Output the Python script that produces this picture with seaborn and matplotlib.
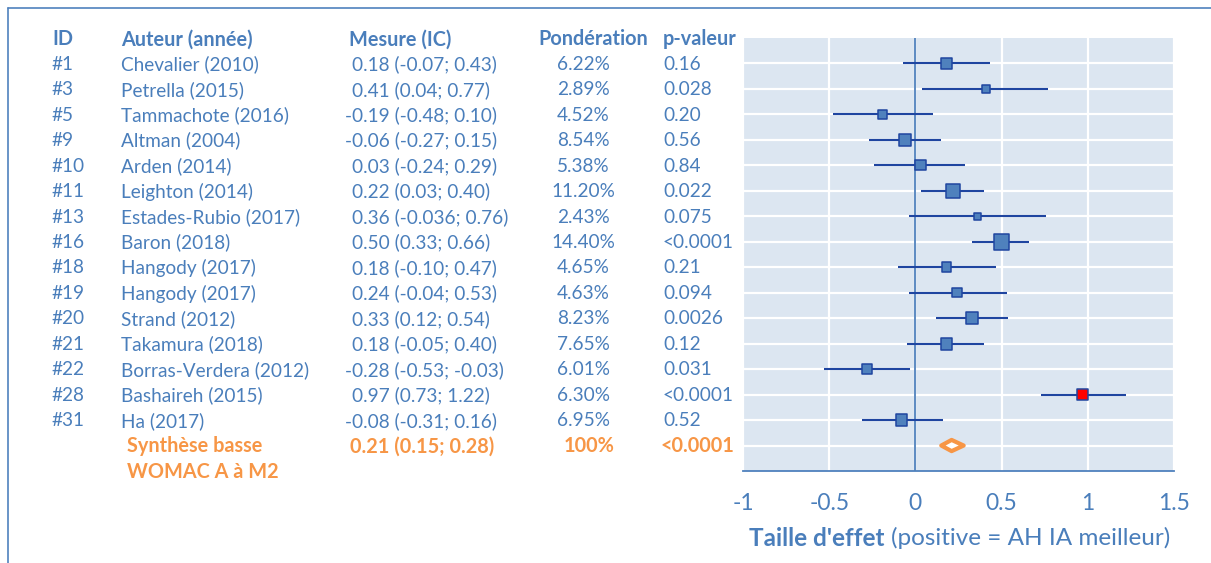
import numpy as np
import pandas as pd
import matplotlib
matplotlib.use("Agg")
import matplotlib.pyplot as plt
import matplotlib.transforms as mtransforms
from matplotlib.lines import Line2D
import seaborn as sns

# ---------------- data ----------------
ids = ["#1", "#3", "#5", "#9", "#10", "#11", "#13", "#16", "#18", "#19",
       "#20", "#21", "#22", "#28", "#31"]
authors = ["Chevalier (2010)", "Petrella (2015)", "Tammachote (2016)", "Altman (2004)",
           "Arden (2014)", "Leighton (2014)", "Estades-Rubio (2017)", "Baron (2018)",
           "Hangody (2017)", "Hangody (2017)", "Strand (2012)", "Takamura (2018)",
           "Borras-Verdera (2012)", "Bashaireh (2015)", "Ha (2017)"]
est = [0.18, 0.41, -0.19, -0.06, 0.03, 0.22, 0.36, 0.50, 0.18, 0.24, 0.33, 0.18, -0.28, 0.97, -0.08]
lo = [-0.07, 0.04, -0.48, -0.27, -0.24, 0.03, -0.036, 0.33, -0.10, -0.04, 0.12, -0.05, -0.53, 0.73, -0.31]
hi = [0.43, 0.77, 0.10, 0.15, 0.29, 0.40, 0.76, 0.66, 0.47, 0.53, 0.54, 0.40, -0.03, 1.22, 0.16]
mesure_txt = ["0.18 (-0.07; 0.43)", "0.41 (0.04; 0.77)", "-0.19 (-0.48; 0.10)", "-0.06 (-0.27; 0.15)",
              "0.03 (-0.24; 0.29)", "0.22 (0.03; 0.40)", "0.36 (-0.036; 0.76)", "0.50 (0.33; 0.66)",
              "0.18 (-0.10; 0.47)", "0.24 (-0.04; 0.53)", "0.33 (0.12; 0.54)", "0.18 (-0.05; 0.40)",
              "-0.28 (-0.53; -0.03)", "0.97 (0.73; 1.22)", "-0.08 (-0.31; 0.16)"]
weights = [6.22, 2.89, 4.52, 8.54, 5.38, 11.20, 2.43, 14.40, 4.65, 4.63, 8.23, 7.65, 6.01, 6.30, 6.95]
weight_txt = ["6.22%", "2.89%", "4.52%", "8.54%", "5.38%", "11.20%", "2.43%", "14.40%",
              "4.65%", "4.63%", "8.23%", "7.65%", "6.01%", "6.30%", "6.95%"]
pvals = ["0.16", "0.028", "0.20", "0.56", "0.84", "0.022", "0.075", "<0.0001",
         "0.21", "0.094", "0.0026", "0.12", "0.031", "<0.0001", "0.52"]
highlight = [False] * 13 + [True, False]

summary_label = ["Synthèse basse", "WOMAC A à M2"]
summary_est, summary_lo, summary_hi = 0.21, 0.15, 0.28
summary_txt = "0.21 (0.15; 0.28)"
summary_weight = "100%"
summary_p = "<0.0001"

headers = ["ID", "Auteur (année)", "Mesure (IC)", "Pondération", "p-valeur"]
xticks = [-1, -0.5, 0, 0.5, 1, 1.5]
xtick_labels = ["-1", "-0.5", "0", "0.5", "1", "1.5"]

# ---------------- style ----------------
BLUE_TXT = "#4A7EBB"
FILL = "#4F81BD"
EDGE = "#1F45A0"
ORANGE = "#F79646"
BG = "#DCE6F1"

sns.set_style("white")
plt.rcParams["font.family"] = ["Lato", "DejaVu Sans"]

W, H = 1211, 563
fig = plt.figure(figsize=(W / 100, H / 100), dpi=100)
fig.patch.set_facecolor("white")

ax_l, ax_r, ax_t, ax_b = 743, 1174, 38, 471
ax = fig.add_axes([ax_l / W, 1 - ax_b / H, (ax_r - ax_l) / W, (ax_b - ax_t) / H])
ax.set_facecolor(BG)

n = len(ids)
rows = np.arange(1, n + 1)
summary_row = n + 1

df = pd.DataFrame({"est": est, "lo": lo, "hi": hi, "row": rows, "w": weights,
                   "hl": highlight})
side_px = 1.6 + 3.7 * np.sqrt(df["w"])
df["area"] = (side_px * 0.72) ** 2

# grid
ax.set_xlim(-1, 1.5)
ax.set_ylim(summary_row + 1, 0)
ax.set_xticks(xticks)
ax.set_xticklabels(xtick_labels)
ax.set_yticks(list(rows) + [summary_row])
ax.set_yticklabels([])
ax.grid(True, color="white", linewidth=1.6, linestyle="-")
ax.set_axisbelow(True)
ax.axvline(0, color=FILL, linewidth=1.3, zorder=1.5)

# CI lines
ax.hlines(df["row"], df["lo"], df["hi"], color=EDGE, linewidth=1.5, zorder=2)

# squares
sns.scatterplot(data=df, x="est", y="row", size="area",
                sizes=(df["area"].min(), df["area"].max()),
                hue="hl", palette={False: FILL, True: "#FF0000"},
                marker="s", edgecolor=EDGE, linewidth=1.1, legend=False,
                zorder=3, ax=ax)

# summary diamond
dh = 0.22
ax.fill([summary_lo, summary_est, summary_hi, summary_est],
        [summary_row, summary_row - dh, summary_row, summary_row + dh],
        facecolor="white", edgecolor=ORANGE, linewidth=3, zorder=3, joinstyle="round")

# axes styling
for s in ["top", "right", "left"]:
    ax.spines[s].set_visible(False)
ax.spines["bottom"].set_color(FILL)
ax.spines["bottom"].set_linewidth(1.3)
ax.tick_params(axis="x", direction="out", length=6, width=1.2, color=FILL,
               labelcolor=BLUE_TXT, labelsize=16.5, pad=10)
ax.tick_params(axis="y", length=0)
ax.set_xlabel("")
ax.set_ylabel("")

# x label (bold part + regular part)
xl_y = 538 / H
t1 = fig.text(749 / W, 1 - xl_y, "Taille d'effet", fontsize=17.5, fontweight="bold",
              color=BLUE_TXT, va="center", ha="left")
fig.canvas.draw()
bb = t1.get_window_extent()
fig.text(bb.x1 / W + 0.005, 1 - xl_y, "(positive = AH IA meilleur)", fontsize=17.5,
         color=BLUE_TXT, va="center", ha="left")

# table text
trans = mtransforms.blended_transform_factory(fig.transFigure, ax.transData)
fs = 13.7
fsb = 14.3


def ftx(px):
    return px / W


hx = [52, 121, 349, 538, 663]
for x, h in zip(hx, headers):
    ax.text(ftx(x), 0.05, h, transform=trans, fontsize=fsb, fontweight="bold",
            color=BLUE_TXT, va="center", ha="left", clip_on=False)

for i in range(n):
    r = rows[i] + 0.03
    kw = dict(transform=trans, fontsize=fs, color=BLUE_TXT, va="center", clip_on=False)
    ax.text(ftx(52), r, ids[i], ha="left", **kw)
    ax.text(ftx(121), r, authors[i], ha="left", **kw)
    mx = 345 if mesure_txt[i].startswith("-") else 352
    ax.text(ftx(mx), r, mesure_txt[i], ha="left", **kw)
    ax.text(ftx(583), r, weight_txt[i], ha="center", **kw)
    ax.text(ftx(663), r, pvals[i], ha="left", **kw)

kw = dict(transform=trans, fontsize=fsb, color=ORANGE, fontweight="bold", va="center",
          clip_on=False)
ax.text(ftx(127), summary_row + 0.03, summary_label[0], ha="left", **kw)
ax.text(ftx(127), summary_row + 1.03, summary_label[1], ha="left", **kw)
ax.text(ftx(350), summary_row + 0.03, summary_txt, ha="left", **kw)
ax.text(ftx(589), summary_row + 0.03, summary_weight, ha="center", **kw)
ax.text(ftx(661), summary_row + 0.03, summary_p, ha="left", **kw)

# frame lines (top and left)
fig.add_artist(Line2D([8 / W, 1], [1 - 8 / H, 1 - 8 / H], color=FILL, linewidth=1.2,
                      transform=fig.transFigure))
fig.add_artist(Line2D([8 / W, 8 / W], [1 - 8 / H, 0], color=FILL, linewidth=1.2,
                      transform=fig.transFigure))

fig.savefig("out.png", dpi=100, facecolor="white")
